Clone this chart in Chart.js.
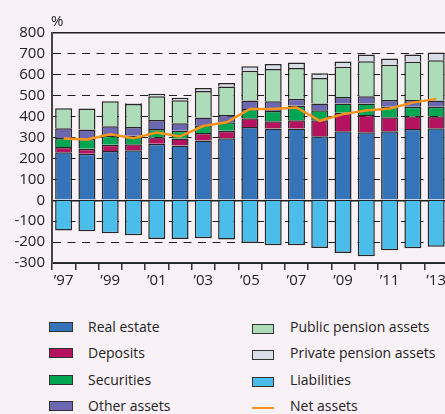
<!DOCTYPE html>
<html><head><meta charset="utf-8">
<script src="https://cdn.jsdelivr.net/npm/chart.js@4"></script>
<style>
html,body{margin:0;padding:0;background:#f8f1f5;overflow:hidden;}
#wrap{position:relative;width:445px;height:414px;overflow:hidden;font-family:"Open Sans",sans-serif;color:#222;}
#c{position:absolute;left:0;top:0;}
#pct{position:absolute;left:51px;top:10px;font-size:15px;}
.lt{position:absolute;font-size:14px;line-height:18px;white-space:nowrap;}
.sw{position:absolute;box-sizing:border-box;height:10px;border:1.5px solid #333;}
.ln{position:absolute;height:2px;}
</style></head>
<body><div id="wrap"><canvas id="c" width="448" height="300"></canvas><div id="pct">%</div><div id="legend"></div></div>
<script>
const categories = ['1997','1998','1999','2000','2001','2002','2003','2004','2005','2006','2007','2008','2009','2010','2011','2012','2013'];
const xTickLabels = ['\u201997','','\u201999','','\u201901','','\u201903','','\u201905','','\u201907','','\u201909','','\u201911','','\u201913'];
const realEstate = [230,222,236,239,270,262,286,297,351,343,343,306,330,325,330,341,345];
const deposits   = [25,25,29,29,31,33,36,36,41,35,40,77,88,83,67,61,57];
const securities = [43,46,44,41,40,37,37,40,45,49,70,48,45,55,50,45,45];
const otherAssets= [46,45,45,42,43,36,37,35,40,47,32,32,31,35,32,33,30];
const publicPension = [96,101,120,110,114,110,127,136,143,154,148,122,144,167,169,182,193];
const privatePension= [null,null,null,3,11,12,14,17,21,24,26,23,26,32,30,35,37];
const liabilities = [-144,-148,-158,-167,-185,-185,-182,-188,-204,-215,-215,-228,-252,-268,-239,-230,-222];
const netAssets = [296,291,316,297,324,305,355,373,437,437,444,380,412,429,439,467,485];

const seriesNames = ['Real estate','Deposits','Securities','Other assets','Public pension assets','Private pension assets','Liabilities','Net assets'];
const seriesColors = ['#3674b9','#b5135f','#00a651','#6b67b0','#acdcb8','#d8dde6','#4bbdea','#f7941d'];
const barSeries = [realEstate,deposits,securities,otherAssets,publicPension,privatePension,liabilities];

const datasets = barSeries.map((d,i)=>({
  type:'bar', label:seriesNames[i], data:d, backgroundColor:seriesColors[i],
  borderColor:'#262626', borderWidth:1.5, stack:'assets', order:1,
  categoryPercentage:1.0, barPercentage:0.73
}));
datasets.push({
  type:'line', label:seriesNames[7], data:netAssets, borderColor:seriesColors[7],
  borderWidth:2.5, pointRadius:0, tension:0, fill:false, stack:'net', order:0
});

new Chart(document.getElementById('c'), {
  data:{labels:categories, datasets},
  options:{
    responsive:false, animation:false, devicePixelRatio:1,
    layout:{padding:{top:33,left:0,right:0,bottom:8}},
    plugins:{legend:{display:false}, tooltip:{enabled:false}},
    scales:{
      x:{
        stacked:true,
        grid:{offset:true, drawOnChartArea:false, drawTicks:true, tickLength:7, color:'#333', lineWidth:1.5},
        border:{display:true, color:'#333', width:1.5},
        ticks:{autoSkip:false, maxRotation:0, padding:2, color:'#222', font:{family:'"Open Sans", sans-serif', size:15},
          callback:(v,i)=>xTickLabels[i]}
      },
      y:{
        stacked:true, min:-300, max:800,
        afterFit:s=>{s.width=52;},
        ticks:{stepSize:100, autoSkip:false, padding:7, color:'#222', font:{family:'"Open Sans", sans-serif', size:15}},
        grid:{drawTicks:false, color:'#1e1e1e',
          lineWidth:ctx=>(ctx.tick && (ctx.tick.value===0||ctx.tick.value===800)) ? 1.5 : 1},
        border:{display:true, color:'#444', width:2,
          dash:ctx=>(ctx.tick && ![800,0,-300].includes(ctx.tick.value)) ? [8,6.5] : []}
      }
    }
  }
});

// legend
const leg = document.getElementById('legend');
const rowsY = [327,353,380,406];
seriesNames.forEach((name,i)=>{
  const col = i<4 ? 0 : 1, row = i%4;
  const sx = col===0 ? 49 : 252, tx = col===0 ? 88 : 290, w = col===0 ? 24 : 22;
  const cy = rowsY[row] + (col===1 ? 2 : 0);
  if (i===7) {
    const l = document.createElement('div'); l.className='ln';
    l.style.cssText = `left:${sx}px;top:${cy-1}px;width:${w}px;background:${seriesColors[i]}`;
    leg.appendChild(l);
  } else {
    const s = document.createElement('div'); s.className='sw';
    s.style.cssText = `left:${sx}px;top:${cy-5}px;width:${w}px;background:${seriesColors[i]}`;
    leg.appendChild(s);
  }
  const t = document.createElement('div'); t.className='lt';
  t.style.cssText = `left:${tx}px;top:${rowsY[row]-9}px`;
  t.textContent = name;
  leg.appendChild(t);
});
</script>
</body></html>
